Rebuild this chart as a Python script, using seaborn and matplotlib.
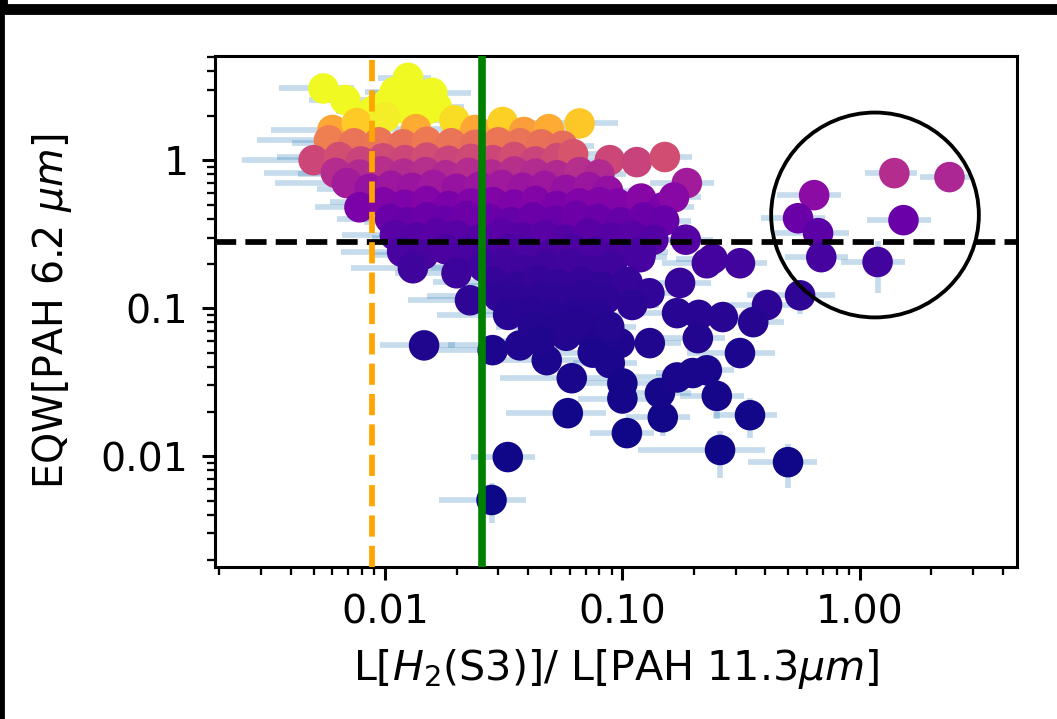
import numpy as np
import pandas as pd
import matplotlib
matplotlib.use("Agg")
import matplotlib.pyplot as plt
import seaborn as sns
from matplotlib.patches import Ellipse, Rectangle
from matplotlib.ticker import FormatStrFormatter, FuncFormatter, NullFormatter

# L[H2(S3)] / L[PAH 11.3um]
h2_pah = [
    # yellow top
    0.0055, 0.0068, 0.0103, 0.0125, 0.0158, 0.0150, 0.0089, 0.0118, 0.0110, 0.0135, 0.0165,
    # orange
    0.0060, 0.0076, 0.0100, 0.0135, 0.0196, 0.0240, 0.0313, 0.0385, 0.0490, 0.0660,
    # ~1.3
    0.0058, 0.0074, 0.0094, 0.0119, 0.0150, 0.0190, 0.0240, 0.0300, 0.0370, 0.0455, 0.0560,
    # ~1.0
    0.0050, 0.0064, 0.0079, 0.0098, 0.0121, 0.0150, 0.0185, 0.0230, 0.0285, 0.0350, 0.0430, 0.0530, 0.0620, 0.0885, 0.1150, 0.1510,
    # ~0.8
    0.0062, 0.0078, 0.0097, 0.0120, 0.0148, 0.0180, 0.0225, 0.0280, 0.0350, 0.0430, 0.0530, 0.0660, 0.0800,
    # ~0.66
    0.0069, 0.0086, 0.0106, 0.0130, 0.0160, 0.0200, 0.0250, 0.0310, 0.0380, 0.0470, 0.0580, 0.0720, 0.0870, 0.1870,
    # ~0.5
    0.0078, 0.0098, 0.0121, 0.0150, 0.0185, 0.0230, 0.0285, 0.0350, 0.0430, 0.0530, 0.0660, 0.0800, 0.0950, 0.1200, 0.1480, 0.1650,
    # ~0.4
    0.0105, 0.0125, 0.0150, 0.0180, 0.0220, 0.0275, 0.0340, 0.0420, 0.0520, 0.0640, 0.0790, 0.0980, 0.1230, 0.1500,
    # ~0.31
    0.0110, 0.0135, 0.0165, 0.0200, 0.0250, 0.0310, 0.0380, 0.0470, 0.0580, 0.0720, 0.0900, 0.1100, 0.1350, 0.1850,
    # ~0.24
    0.0118, 0.0145, 0.0180, 0.0220, 0.0270, 0.0330, 0.0400, 0.0500, 0.0620, 0.0770, 0.0950, 0.1200,
    # ~0.19
    0.0131, 0.0200, 0.0260, 0.0320, 0.0390, 0.0480, 0.0600, 0.0740, 0.0900, 0.1190, 0.2270, 0.3130, 0.2400,
    # ~0.15
    0.0228, 0.0290, 0.0360, 0.0440, 0.0540, 0.0670, 0.0820, 0.1050, 0.1750, 0.1300,
    # ~0.12
    0.0300, 0.0370, 0.0460, 0.0560, 0.0690, 0.0850, 0.1100, 0.4070, 0.5610,
    # ~0.09
    0.0330, 0.0410, 0.0510, 0.0630, 0.0780, 0.1700, 0.2100, 0.2650, 0.3560,
    # ~0.06
    0.0284, 0.0370, 0.0480, 0.0580, 0.0700, 0.0800, 0.0975, 0.1305, 0.2080, 0.3130,
    0.0420, 0.0530, 0.0650, 0.0750, 0.0880, 0.0450,
    # low scattered
    0.0146, 0.0612, 0.0589, 0.0329, 0.0281, 0.1045, 0.1000, 0.0885, 0.1480, 0.1440, 0.1980, 0.2500, 0.3450, 0.2580, 0.4990, 0.1700, 0.2270, 0.1000,
    # circled sources
    0.643, 0.550, 0.668, 0.689, 1.400, 2.390, 1.530, 1.190,
]

# EQW[PAH 6.2um]
eqw62 = [
    3.05, 2.55, 2.45, 3.60, 2.85, 2.20, 2.15, 2.25, 2.90, 2.50, 2.30,
    1.60, 1.78, 1.95, 1.62, 1.86, 1.60, 1.81, 1.55, 1.62, 1.77,
    1.36, 1.30, 1.32, 1.28, 1.33, 1.30, 1.27, 1.32, 1.30, 1.28, 1.25,
    1.00, 1.05, 0.98, 1.03, 1.00, 1.04, 0.99, 1.02, 1.00, 1.05, 0.98, 1.03, 1.10, 1.00, 0.97, 1.05,
    0.82, 0.80, 0.84, 0.81, 0.83, 0.79, 0.82, 0.80, 0.84, 0.81, 0.79, 0.83, 0.80,
    0.70, 0.64, 0.67, 0.65, 0.68, 0.64, 0.66, 0.68, 0.65, 0.67, 0.63, 0.66, 0.62, 0.70,
    0.48, 0.52, 0.50, 0.53, 0.49, 0.51, 0.52, 0.50, 0.53, 0.49, 0.51, 0.52, 0.51, 0.55, 0.48, 0.56,
    0.40, 0.38, 0.41, 0.39, 0.42, 0.40, 0.38, 0.41, 0.39, 0.42, 0.40, 0.38, 0.41, 0.39,
    0.31, 0.30, 0.32, 0.31, 0.29, 0.32, 0.30, 0.31, 0.29, 0.32, 0.30, 0.31, 0.29, 0.29,
    0.24, 0.23, 0.25, 0.24, 0.23, 0.25, 0.24, 0.23, 0.25, 0.24, 0.23, 0.24,
    0.186, 0.172, 0.190, 0.200, 0.180, 0.190, 0.200, 0.180, 0.190, 0.221, 0.201, 0.201, 0.215,
    0.113, 0.150, 0.140, 0.155, 0.145, 0.150, 0.140, 0.150, 0.148, 0.126,
    0.120, 0.115, 0.120, 0.118, 0.122, 0.115, 0.105, 0.105, 0.122,
    0.090, 0.095, 0.088, 0.092, 0.090, 0.0925, 0.090, 0.087, 0.0804,
    0.052, 0.056, 0.0445, 0.065, 0.070, 0.060, 0.058, 0.058, 0.0627, 0.0497,
    0.075, 0.072, 0.080, 0.050, 0.075, 0.060,
    0.056, 0.0336, 0.0195, 0.00985, 0.00505, 0.0143, 0.0245, 0.0425, 0.0183, 0.0267, 0.0364, 0.0255, 0.0189, 0.0110, 0.0091, 0.0340, 0.0380, 0.0310,
    0.58, 0.405, 0.321, 0.221, 0.817, 0.768, 0.393, 0.205,
]

# relative (fractional) uncertainties
h2_err = [
    0.35, 0.30, 0.20, 0.25, 0.45, 0.30, 0.30, 0.25, 0.25, 0.30, 0.30,
    0.45, 0.30, 0.25, 0.30, 0.30, 0.25, 0.30, 0.30, 0.35, 0.45,
    0.50, 0.45, 0.30, 0.35, 0.25, 0.30, 0.30, 0.25, 0.30, 0.30, 0.35,
    0.50, 0.45, 0.40, 0.30, 0.30, 0.25, 0.30, 0.30, 0.25, 0.30, 0.30, 0.35, 0.30, 0.25, 0.30, 0.30,
    0.50, 0.45, 0.35, 0.30, 0.30, 0.25, 0.30, 0.30, 0.25, 0.30, 0.35, 0.30, 0.30,
    0.50, 0.40, 0.35, 0.30, 0.30, 0.25, 0.30, 0.30, 0.25, 0.30, 0.30, 0.35, 0.30, 0.30,
    0.35, 0.40, 0.35, 0.30, 0.25, 0.30, 0.30, 0.25, 0.30, 0.30, 0.35, 0.30, 0.30, 0.30, 0.35, 0.30,
    0.40, 0.35, 0.30, 0.30, 0.25, 0.30, 0.30, 0.25, 0.30, 0.30, 0.35, 0.30, 0.30, 0.30,
    0.40, 0.35, 0.30, 0.30, 0.25, 0.30, 0.30, 0.25, 0.30, 0.30, 0.35, 0.30, 0.30, 0.30,
    0.45, 0.40, 0.35, 0.30, 0.30, 0.25, 0.30, 0.30, 0.30, 0.30, 0.35, 0.30,
    0.45, 0.45, 0.40, 0.35, 0.30, 0.30, 0.30, 0.30, 0.30, 0.30, 0.35, 0.30, 0.30,
    0.45, 0.45, 0.40, 0.35, 0.30, 0.30, 0.30, 0.30, 0.35, 0.30,
    0.50, 0.45, 0.40, 0.35, 0.30, 0.30, 0.30, 0.35, 0.40,
    0.50, 0.45, 0.40, 0.35, 0.30, 0.35, 0.30, 0.30, 0.35,
    0.50, 0.50, 0.45, 0.40, 0.35, 0.30, 0.30, 0.35, 0.30, 0.40,
    0.30, 0.30, 0.30, 0.30, 0.30, 0.30,
    0.35, 0.50, 0.45, 0.30, 0.40, 0.30, 0.35, 0.30, 0.30, 0.35, 0.30, 0.30, 0.30, 0.55, 0.32,
    0.35, 0.30, 0.40,
    0.30, 0.30, 0.35, 0.30, 0.25, 0.25, 0.30, 0.30,
]

eqw_err = [
    0.00, 0.00, 0.00, 0.00, 0.00, 0.00, 0.00, 0.00, 0.00, 0.00, 0.00,
    0.00, 0.00, 0.00, 0.00, 0.00, 0.00, 0.00, 0.00, 0.00, 0.00,
    0.00, 0.00, 0.00, 0.00, 0.00, 0.00, 0.00, 0.00, 0.00, 0.00, 0.00,
    0.00, 0.00, 0.00, 0.00, 0.00, 0.00, 0.00, 0.00, 0.00, 0.00, 0.00, 0.00, 0.00, 0.00, 0.00, 0.00,
    0.00, 0.00, 0.00, 0.00, 0.00, 0.00, 0.00, 0.00, 0.00, 0.00, 0.00, 0.00, 0.00,
    0.00, 0.00, 0.00, 0.00, 0.00, 0.00, 0.00, 0.00, 0.00, 0.00, 0.00, 0.00, 0.00, 0.10,
    0.00, 0.00, 0.00, 0.00, 0.00, 0.00, 0.00, 0.00, 0.00, 0.00, 0.00, 0.00, 0.00, 0.00, 0.00, 0.00,
    0.00, 0.00, 0.00, 0.00, 0.00, 0.00, 0.00, 0.00, 0.00, 0.00, 0.00, 0.00, 0.00, 0.00,
    0.00, 0.00, 0.00, 0.00, 0.00, 0.00, 0.00, 0.00, 0.00, 0.00, 0.00, 0.00, 0.00, 0.15,
    0.00, 0.00, 0.00, 0.00, 0.00, 0.00, 0.00, 0.00, 0.00, 0.00, 0.00, 0.00,
    0.00, 0.00, 0.00, 0.00, 0.00, 0.00, 0.00, 0.00, 0.00, 0.15, 0.15, 0.15, 0.15,
    0.00, 0.00, 0.00, 0.00, 0.00, 0.00, 0.00, 0.15, 0.20, 0.15,
    0.00, 0.00, 0.00, 0.00, 0.00, 0.00, 0.15, 0.20, 0.25,
    0.00, 0.00, 0.00, 0.00, 0.00, 0.20, 0.20, 0.20, 0.20,
    0.00, 0.00, 0.00, 0.00, 0.00, 0.00, 0.15, 0.20, 0.15, 0.20,
    0.00, 0.00, 0.00, 0.00, 0.00, 0.00,
    0.10, 0.20, 0.15, 0.20, 0.30, 0.20, 0.20, 0.20, 0.25, 0.20, 0.20, 0.30, 0.30, 0.35, 0.33,
    0.20, 0.20, 0.20,
    0.15, 0.15, 0.15, 0.15, 0.15, 0.15, 0.20, 0.38,
]

h2_cut = 0.0088      # orange dashed
h2_mid = 0.0257      # green
eqw_cut = 0.28       # black dashed

df = pd.DataFrame({"h2_pah": h2_pah, "eqw62": eqw62,
                   "h2_err": h2_err, "eqw_err": eqw_err})

# figure: small default-style plot rendered at high dpi
dpi = 275
fig = plt.figure(figsize=(1057 / dpi, 719 / dpi), dpi=dpi)
ax = fig.add_axes([0.2034, 0.2114, 0.7587, 0.7106])

# error bars underneath
ax.errorbar(df["h2_pah"], df["eqw62"],
            xerr=df["h2_pah"] * df["h2_err"],
            yerr=df["eqw62"] * df["eqw_err"],
            fmt="none", ecolor="#1f77b4", alpha=0.25, elinewidth=1.5, zorder=1)

sns.scatterplot(data=df, x="h2_pah", y="eqw62", hue="eqw62",
                palette="plasma", hue_norm=(0, 2.0), s=64, linewidth=0,
                legend=False, ax=ax, zorder=3)

ax.set_xscale("log")
ax.set_yscale("log")
ax.set_xlim(0.00192, 4.6)
ax.set_ylim(0.00178, 5.05)

ax.axhline(eqw_cut, color="k", ls="--", lw=1.5, zorder=4)
ax.axvline(h2_cut, color="orange", ls="--", lw=1.5, zorder=4)
ax.axvline(h2_mid, color="green", lw=2, zorder=4)

# circle around the high-ratio sources
ax.add_patch(Ellipse((0.823, 0.689), 0.259, 0.401, transform=ax.transAxes,
                     fill=False, edgecolor="k", lw=1, zorder=5))

ax.xaxis.set_major_formatter(FormatStrFormatter("%.2f"))
ax.xaxis.set_minor_formatter(NullFormatter())
ax.yaxis.set_major_formatter(FuncFormatter(lambda v, _: f"{v:g}"))
ax.yaxis.set_minor_formatter(NullFormatter())
ax.tick_params(labelsize=10.3)

ax.set_xlabel(r"L[$H_2$(S3)]/ L[PAH 11.3$\mu m$]", fontsize=10.8)
ax.set_ylabel(r"EQW[PAH 6.2 $\mu m$]", fontsize=10.4, labelpad=7)

# black screenshot edges
for rect in [(0, 0, 3 / 1057, 1),
             (0, 1 - 13 / 719, 1, 7 / 719),
             (0, 1 - 6 / 719, 6 / 1057, 6 / 719)]:
    fig.patches.append(Rectangle(rect[:2], rect[2], rect[3],
                                 transform=fig.transFigure, color="k", zorder=10))

fig.savefig("out.png", dpi=dpi)
